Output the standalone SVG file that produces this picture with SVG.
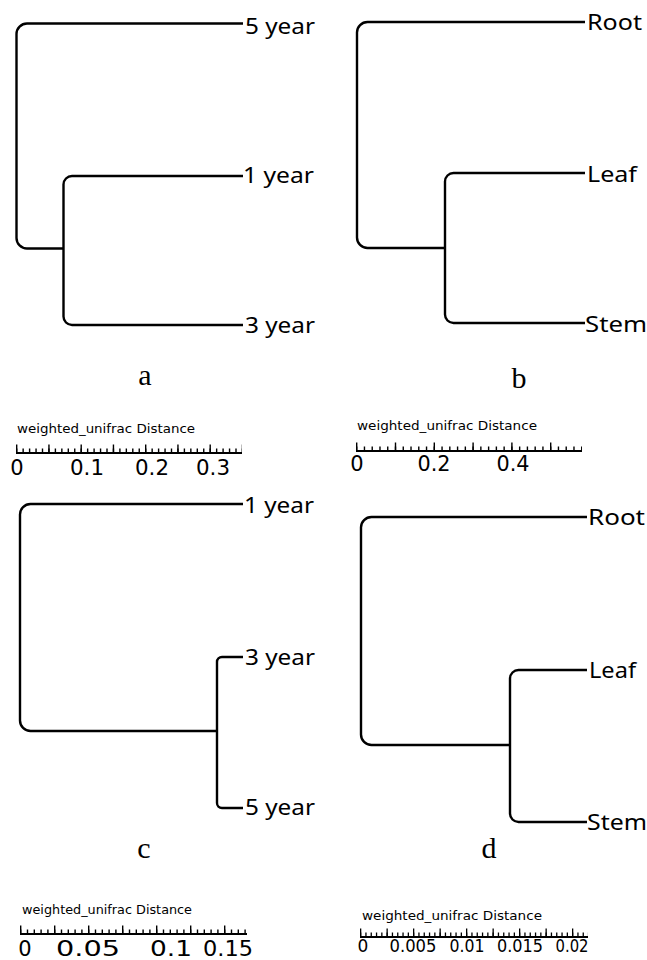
<svg xmlns="http://www.w3.org/2000/svg" width="647" height="960" viewBox="0 0 647 960">
<style>
.br{fill:none;stroke:#000;stroke-width:2.4;stroke-linecap:butt;stroke-linejoin:round}
.lab{font-family:"Noto Sans","Open Sans",sans-serif;font-size:22px;fill:#000}
.pl{font-family:"Liberation Serif",serif;font-size:30px;fill:#000;text-anchor:middle}
.st{font-family:"DejaVu Sans",sans-serif;font-size:13px;fill:#000}
.num{font-family:"DejaVu Sans",sans-serif;font-size:21px;fill:#000;text-anchor:middle}
.nums{font-family:"DejaVu Sans",sans-serif;font-size:17px;fill:#000;text-anchor:middle}
.ax{stroke:#000;stroke-width:1.8;fill:none}
.tk{stroke:#000;fill:none}
</style>
<rect width="647" height="960" fill="#fff"/>

<!-- Panel a -->
<g id="panel-a">
<g id="a-connectors">
<path class="br" d="M243 23.5H27A10.5 10.5 0 0 0 16.5 34V238A10.5 10.5 0 0 0 27 248.5H63.5"/>
<path class="br" d="M243 176H72A8.5 8.5 0 0 0 63.5 184.5V316.5A8.5 8.5 0 0 0 72 325H243"/>
</g>
<g id="a-5year"><text class="lab" x="245" y="34" textLength="70" lengthAdjust="spacingAndGlyphs">5 year</text></g>
<g id="a-1year"><text class="lab" x="243" y="183" textLength="71" lengthAdjust="spacingAndGlyphs">1 year</text></g>
<g id="a-3year"><text class="lab" x="245" y="333" textLength="70" lengthAdjust="spacingAndGlyphs">3 year</text></g>
<g id="a-letter"><text class="pl" x="145" y="385">a</text></g>
<g id="a-scale">
<text class="st" x="17" y="433" textLength="178" lengthAdjust="spacingAndGlyphs">weighted_unifrac Distance</text>
<line class="ax" x1="16" y1="453" x2="242" y2="453"/>
<line class="tk" x1="16" y1="450.5" x2="242" y2="450.5" stroke-width="4" stroke-dasharray="1.4 5.05"/>
<line class="tk" x1="16" y1="448.5" x2="242" y2="448.5" stroke-width="8" stroke-dasharray="1.4 30.85"/>
<text class="num" x="17" y="475">0</text>
<text class="num" x="87" y="475" textLength="34" lengthAdjust="spacingAndGlyphs">0.1</text>
<text class="num" x="152" y="475" textLength="34" lengthAdjust="spacingAndGlyphs">0.2</text>
<text class="num" x="213" y="475" textLength="34" lengthAdjust="spacingAndGlyphs">0.3</text>
</g>
</g>

<!-- Panel b -->
<g id="panel-b">
<g id="b-connectors">
<path class="br" d="M585 22H367.5A10.5 10.5 0 0 0 357 32.5V237.5A10.5 10.5 0 0 0 367.5 248H445"/>
<path class="br" d="M585 173H453.5A8.5 8.5 0 0 0 445 181.5V314.5A8.5 8.5 0 0 0 453.5 323H585"/>
</g>
<g id="b-root"><text class="lab" x="587" y="29.5" textLength="55" lengthAdjust="spacingAndGlyphs">Root</text></g>
<g id="b-leaf"><text class="lab" x="587" y="182" textLength="50" lengthAdjust="spacingAndGlyphs">Leaf</text></g>
<g id="b-stem"><text class="lab" x="585" y="332" textLength="62" lengthAdjust="spacingAndGlyphs">Stem</text></g>
<g id="b-letter"><text class="pl" x="519" y="388">b</text></g>
<g id="b-scale">
<text class="st" x="357" y="430" textLength="180" lengthAdjust="spacingAndGlyphs">weighted_unifrac Distance</text>
<line class="ax" x1="356" y1="451" x2="582" y2="451"/>
<line class="tk" x1="356" y1="448.5" x2="582" y2="448.5" stroke-width="4" stroke-dasharray="1.4 6.36"/>
<line class="tk" x1="356" y1="446.5" x2="582" y2="446.5" stroke-width="8" stroke-dasharray="1.4 37.4"/>
<text class="num" x="357" y="471">0</text>
<text class="num" x="434" y="471" textLength="33" lengthAdjust="spacingAndGlyphs">0.2</text>
<text class="num" x="513" y="471" textLength="33" lengthAdjust="spacingAndGlyphs">0.4</text>
</g>
</g>

<!-- Panel c -->
<g id="panel-c">
<g id="c-connectors">
<path class="br" d="M243 504H30.5A10.5 10.5 0 0 0 20 514.5V720.5A10.5 10.5 0 0 0 30.5 731H217"/>
<path class="br" d="M243 657H222A5 5 0 0 0 217 662V803A5 5 0 0 0 222 808H243"/>
</g>
<g id="c-1year"><text class="lab" x="244" y="513" textLength="70" lengthAdjust="spacingAndGlyphs">1 year</text></g>
<g id="c-3year"><text class="lab" x="245" y="665" textLength="70" lengthAdjust="spacingAndGlyphs">3 year</text></g>
<g id="c-5year"><text class="lab" x="245" y="815" textLength="70" lengthAdjust="spacingAndGlyphs">5 year</text></g>
<g id="c-letter"><text class="pl" x="144" y="858">c</text></g>
<g id="c-scale">
<text class="st" x="22" y="914" textLength="170" lengthAdjust="spacingAndGlyphs">weighted_unifrac Distance</text>
<line class="ax" x1="20" y1="934" x2="247" y2="934"/>
<line class="tk" x1="20" y1="931.5" x2="247" y2="931.5" stroke-width="4" stroke-dasharray="1.4 5.4"/>
<line class="tk" x1="20" y1="929.5" x2="247" y2="929.5" stroke-width="8" stroke-dasharray="1.4 32.6"/>
<text class="num" x="25" y="956">0</text>
<text class="num" x="88" y="956" textLength="64" lengthAdjust="spacingAndGlyphs">0.05</text>
<text class="num" x="171" y="956" textLength="42" lengthAdjust="spacingAndGlyphs">0.1</text>
<text class="num" x="228" y="956" textLength="50" lengthAdjust="spacingAndGlyphs">0.15</text>
</g>
</g>

<!-- Panel d -->
<g id="panel-d">
<g id="d-connectors">
<path class="br" d="M587 517H371.5A10.5 10.5 0 0 0 361 527.5V734.5A10.5 10.5 0 0 0 371.5 745H510"/>
<path class="br" d="M587 670H518.5A8.5 8.5 0 0 0 510 678.5V813.5A8.5 8.5 0 0 0 518.5 822H587"/>
</g>
<g id="d-root"><text class="lab" x="588" y="525" textLength="57" lengthAdjust="spacingAndGlyphs">Root</text></g>
<g id="d-leaf"><text class="lab" x="589" y="678" textLength="47" lengthAdjust="spacingAndGlyphs">Leaf</text></g>
<g id="d-stem"><text class="lab" x="587" y="830" textLength="60" lengthAdjust="spacingAndGlyphs">Stem</text></g>
<g id="d-letter"><text class="pl" x="489" y="858">d</text></g>
<g id="d-scale">
<text class="st" x="362" y="920" textLength="180" lengthAdjust="spacingAndGlyphs">weighted_unifrac Distance</text>
<line class="ax" x1="360" y1="937" x2="588" y2="937"/>
<line class="tk" x1="360" y1="934.5" x2="588" y2="934.5" stroke-width="4" stroke-dasharray="1.3 4.0"/>
<line class="tk" x1="360" y1="932.5" x2="588" y2="932.5" stroke-width="8" stroke-dasharray="1.3 25.2"/>
<text class="nums" x="363" y="952">0</text>
<text class="nums" x="413" y="952" textLength="47" lengthAdjust="spacingAndGlyphs">0.005</text>
<text class="nums" x="467" y="952" textLength="35" lengthAdjust="spacingAndGlyphs">0.01</text>
<text class="nums" x="520" y="952" textLength="46" lengthAdjust="spacingAndGlyphs">0.015</text>
<text class="nums" x="572" y="952" textLength="33" lengthAdjust="spacingAndGlyphs">0.02</text>
</g>
</g>
</svg>
